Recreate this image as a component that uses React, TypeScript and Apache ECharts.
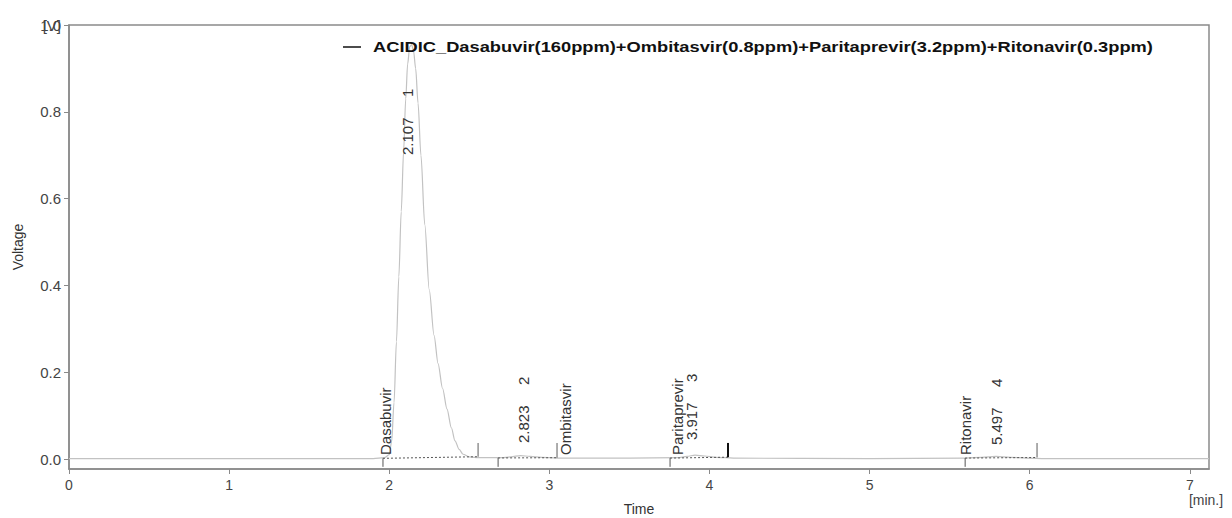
import React, { useEffect, useRef } from 'react';
import * as echarts from 'echarts';

const sampleName =
  'ACIDIC_Dasabuvir(160ppm)+Ombitasvir(0.8ppm)+Paritaprevir(3.2ppm)+Ritonavir(0.3ppm)';

// Detector trace: [time (min), voltage (V)]
const trace: [number, number][] = [
  [0, 0.001], [1.0, 0.001], [1.9, 0.001], [1.97, 0.003], [2.0, 0.01],
  [2.015, 0.04], [2.03, 0.13], [2.045, 0.27], [2.06, 0.42], [2.075, 0.57],
  [2.09, 0.71], [2.103, 0.83], [2.115, 0.91], [2.128, 0.95], [2.14, 0.955],
  [2.152, 0.94], [2.165, 0.9], [2.18, 0.82], [2.198, 0.7], [2.222, 0.54],
  [2.25, 0.39], [2.28, 0.285], [2.305, 0.22], [2.333, 0.163], [2.361, 0.115],
  [2.388, 0.072], [2.411, 0.042], [2.437, 0.022], [2.461, 0.011], [2.5, 0.005],
  [2.56, 0.003], [2.7, 0.003], [2.76, 0.005], [2.82, 0.008], [2.88, 0.006],
  [2.95, 0.004], [3.05, 0.002], [3.5, 0.002], [3.8, 0.003], [3.86, 0.006],
  [3.91, 0.009], [3.97, 0.007], [4.04, 0.004], [4.15, 0.002], [5.0, 0.001],
  [5.6, 0.002], [5.7, 0.004], [5.79, 0.006], [5.88, 0.004], [5.98, 0.002],
  [6.1, 0.001], [7.12, 0.001],
];

// Integrated peaks
const peakNames = ['Dasabuvir', 'Ombitasvir', 'Paritaprevir', 'Ritonavir'];
const peakNumbers = ['1', '2', '3', '4'];
const retentionTimes = ['2.107', '2.823', '3.917', '5.497'];
const labelTimes = [2.117, 2.836, 3.891, 5.79];
const nameTimes = [1.975, 3.1, 3.8, 5.6];
const peakStart = [1.961, 2.68, 3.754, 5.597];
const peakEnd = [2.555, 3.048, 4.116, 6.046];
const baseStartV = [0.0016, 0.0025, 0.0022, 0.0022];
const baseEndV = [0.0053, 0.003, 0.0042, 0.0035];

// Axes
const timeTicks = [0, 1, 2, 3, 4, 5, 6, 7];
const voltTicks = [0, 0.2, 0.4, 0.6, 0.8, 1.0];
const timeMax = 7.12;
const voltMin = -0.023;
const voltMax = 1.0;

const FONT = '"Liberation Sans", Arial, sans-serif';
const frameColor = '#8a8a8a';
const textColor = '#333';

// Pixel layout of the annotation texts (bottom ends of the rotated labels)
const rtLabelBottom = [155, 443, 440, 445];
const numberGap = 58;
const nameBottom = 455;

export default function App() {
  const ref = useRef<HTMLDivElement>(null);

  useEffect(() => {
    if (!ref.current) return;
    const chart = echarts.init(ref.current, undefined, { renderer: 'svg' });

    const segment = (pts: [number, number][], color: string, width: number, type: any = 'solid') => ({
      type: 'line',
      data: pts,
      showSymbol: false,
      silent: true,
      animation: false,
      lineStyle: { color, width, type },
      z: 3,
    });

    const series: any[] = [
      {
        type: 'line',
        name: sampleName,
        data: trace,
        showSymbol: false,
        smooth: 0.3,
        smoothMonotone: 'x',
        lineStyle: { color: '#c2c2c2', width: 1.2 },
        z: 2,
      },
    ];
    peakStart.forEach((s, i) => {
      const e = peakEnd[i];
      series.push(segment([[s, baseStartV[i]], [e, baseEndV[i]]], '#555', 1, [2, 2]));
      series.push(segment([[s, baseStartV[i]], [s, -0.018]], '#555', 1));
      series.push(segment([[e, baseEndV[i]], [e, 0.037]], i === 2 ? '#111' : '#777', i === 2 ? 2 : 1.2));
    });

    chart.setOption({
      animation: false,
      grid: {
        left: 69,
        right: 23,
        top: 25,
        bottom: 49,
        outerBoundsMode: 'none',
        containLabel: false,
        show: true,
        borderColor: frameColor,
        borderWidth: 1.5,
        backgroundColor: 'transparent',
      },
      xAxis: {
        type: 'value',
        min: 0,
        max: timeMax,
        name: 'Time',
        nameLocation: 'middle',
        nameGap: 33,
        nameTextStyle: { fontFamily: FONT, fontSize: 14, color: textColor },
        axisLine: { onZero: false, lineStyle: { color: frameColor, width: 1.5 } },
        axisTick: { show: true, length: 5, lineStyle: { color: frameColor }, customValues: timeTicks },
        axisLabel: {
          customValues: timeTicks,
          margin: 9,
          fontFamily: FONT,
          fontSize: 14,
          color: '#444',
          formatter: (v: number) => String(v),
        },
        splitLine: { show: false },
      },
      yAxis: {
        type: 'value',
        min: voltMin,
        max: voltMax,
        name: 'Voltage',
        nameLocation: 'middle',
        nameGap: 44,
        nameTextStyle: { fontFamily: FONT, fontSize: 14, color: textColor },
        axisLine: { onZero: false, lineStyle: { color: frameColor, width: 1.5 } },
        axisTick: { show: true, length: 5, lineStyle: { color: frameColor }, customValues: voltTicks },
        axisLabel: {
          customValues: voltTicks,
          margin: 8,
          fontFamily: FONT,
          fontSize: 15,
          color: '#444',
          formatter: (v: number) => v.toFixed(1),
        },
        splitLine: { show: false },
      },
      series,
    });

    const px = (t: number, v: number) => chart.convertToPixel({ gridIndex: 0 }, [t, v]) as number[];
    const rotText = (text: string, x: number, y: number) => ({
      type: 'text',
      x,
      y,
      rotation: Math.PI / 2,
      silent: true,
      style: {
        text,
        fontFamily: FONT,
        fontSize: 15,
        fill: textColor,
        align: 'left',
        verticalAlign: 'middle',
      },
      z: 10,
    });

    const graphics: any[] = [];
    peakNames.forEach((name, i) => {
      const nx = px(nameTimes[i], 0)[0];
      graphics.push(rotText(name, nx, nameBottom));
      const lx = px(labelTimes[i], 0)[0];
      graphics.push(rotText(retentionTimes[i], lx, rtLabelBottom[i]));
      graphics.push(rotText(peakNumbers[i], lx, rtLabelBottom[i] - numberGap));
    });

    // legend
    graphics.push({
      type: 'line',
      shape: { x1: 343, y1: 47, x2: 361, y2: 47 },
      style: { stroke: '#111', lineWidth: 1.5 },
      z: 10,
    });
    graphics.push({
      type: 'text',
      x: 373,
      y: 47,
      scaleX: 1.22,
      style: {
        text: sampleName,
        fontFamily: FONT,
        fontSize: 15,
        fontWeight: 'bold',
        fill: '#111',
        align: 'left',
        verticalAlign: 'middle',
      },
      z: 10,
    });

    // unit labels
    graphics.push({
      type: 'text',
      x: 61,
      y: 25,
      style: { text: '[V]', fontFamily: FONT, fontSize: 15, fill: '#444', align: 'right', verticalAlign: 'middle' },
      z: 10,
    });
    graphics.push({
      type: 'text',
      x: 1206,
      y: 500,
      style: { text: '[min.]', fontFamily: FONT, fontSize: 14, fill: '#444', align: 'center', verticalAlign: 'middle' },
      z: 10,
    });

    chart.setOption({ graphic: graphics });

    return () => chart.dispose();
  }, []);

  return (
    <div
      ref={ref}
      style={{ position: 'fixed', left: 0, top: 0, width: 1232, height: 518, background: '#fff' }}
    />
  );
}
